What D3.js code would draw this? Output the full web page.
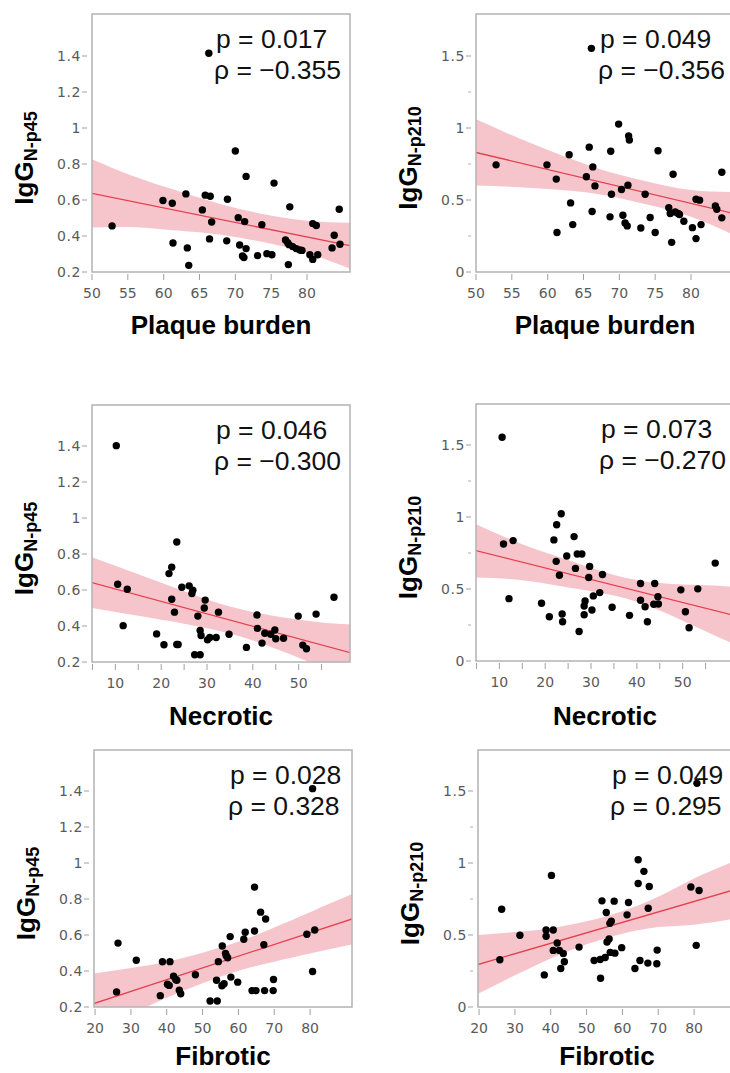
<!DOCTYPE html>
<html>
<head>
<meta charset="utf-8">
<script src="https://cdn.jsdelivr.net/npm/d3@7"></script>
<style>
  body { margin: 0; background: #fff; }
  text { font-family: "Liberation Sans", Arial, sans-serif; }
  .tick-label { font-family: "DejaVu Sans", Verdana, sans-serif; font-size: 14px; fill: #5a5a5a; }
</style>
</head>
<body>
<script>
// ---- points: [x, IgG] ----
const plaque45 = [[52.8,0.456],[59.9,0.597],[61.2,0.582],[61.3,0.361],[63.1,0.634],[63.3,0.334],[63.5,0.237],[65.4,0.545],[65.8,0.627],[66.5,0.621],[66.3,1.415],[66.4,0.384],[66.7,0.478],[68.9,0.604],[68.8,0.373],[70.0,0.872],[70.4,0.502],[70.6,0.35],[71.0,0.289],[71.2,0.28],[71.3,0.48],[71.5,0.731],[71.5,0.33],[73.1,0.291],[73.7,0.463],[74.4,0.302],[75.1,0.296],[75.4,0.694],[77.0,0.378],[77.3,0.363],[77.5,0.352],[77.6,0.562],[77.4,0.241],[78.0,0.341],[78.5,0.33],[79.0,0.322],[79.3,0.32],[80.4,0.296],[80.8,0.27],[80.8,0.469],[81.3,0.458],[81.5,0.296],[83.5,0.334],[83.8,0.404],[84.5,0.549],[84.6,0.354]];
const plaque210 = [[52.8,0.744],[59.9,0.744],[61.2,0.645],[61.3,0.274],[63.0,0.814],[63.2,0.48],[63.5,0.329],[65.4,0.661],[65.8,0.867],[66.1,1.553],[66.3,0.73],[66.2,0.42],[66.6,0.598],[68.8,0.839],[68.9,0.54],[68.7,0.383],[69.9,1.027],[70.3,0.573],[70.5,0.394],[70.8,0.341],[71.1,0.32],[71.2,0.603],[71.3,0.944],[71.4,0.916],[73.0,0.306],[73.6,0.54],[74.3,0.378],[75.0,0.274],[75.4,0.842],[76.9,0.447],[77.1,0.406],[77.5,0.679],[77.3,0.206],[77.8,0.417],[78.2,0.406],[78.4,0.399],[79.0,0.352],[80.2,0.308],[80.7,0.232],[80.7,0.505],[81.2,0.499],[81.4,0.329],[83.4,0.459],[83.6,0.436],[84.3,0.693],[84.3,0.376]];
const necrotic45 = [[10.2,1.402],[10.5,0.632],[12.6,0.604],[11.7,0.402],[19.0,0.356],[20.6,0.296],[21.7,0.691],[22.3,0.727],[22.3,0.549],[22.9,0.477],[23.4,0.867],[23.4,0.297],[23.7,0.297],[24.5,0.615],[26.1,0.623],[26.7,0.58],[26.9,0.599],[27.3,0.24],[28.5,0.24],[28.0,0.455],[28.5,0.375],[28.7,0.347],[29.6,0.544],[29.4,0.5],[30.1,0.323],[30.6,0.336],[32.0,0.336],[32.5,0.477],[34.8,0.354],[38.6,0.281],[40.9,0.461],[41.0,0.387],[42.0,0.305],[42.6,0.36],[43.9,0.354],[44.8,0.378],[45.0,0.329],[46.7,0.332],[49.9,0.455],[50.9,0.294],[51.7,0.274],[53.8,0.466],[57.7,0.56]];
const necrotic210 = [[10.6,1.554],[10.9,0.813],[13.0,0.836],[12.1,0.433],[19.2,0.401],[20.9,0.307],[21.9,0.841],[22.5,0.946],[22.4,0.692],[23.1,0.596],[23.5,1.023],[23.7,0.326],[23.8,0.273],[24.7,0.729],[26.3,0.864],[26.6,0.643],[27.0,0.743],[28.0,0.743],[27.4,0.205],[28.5,0.321],[28.7,0.417],[28.5,0.382],[29.7,0.657],[29.5,0.58],[30.2,0.354],[30.5,0.452],[31.9,0.475],[32.5,0.601],[34.6,0.373],[38.4,0.317],[40.8,0.538],[40.8,0.422],[41.8,0.377],[42.3,0.273],[43.7,0.394],[43.9,0.538],[44.6,0.447],[44.7,0.396],[49.6,0.494],[50.6,0.342],[51.4,0.231],[53.3,0.501],[57.1,0.68]];
const fibrotic45 = [[26.0,0.284],[26.4,0.555],[31.5,0.46],[38.2,0.263],[38.8,0.451],[40.2,0.327],[40.9,0.452],[40.7,0.32],[41.9,0.371],[42.5,0.353],[42.8,0.349],[43.5,0.293],[43.9,0.274],[48.0,0.379],[52.1,0.233],[54.1,0.233],[53.9,0.349],[54.4,0.452],[55.5,0.539],[55.4,0.318],[56.0,0.329],[56.4,0.498],[56.6,0.485],[57.0,0.474],[57.7,0.591],[57.9,0.366],[59.8,0.338],[61.5,0.576],[61.9,0.615],[63.8,0.291],[64.5,0.622],[64.5,0.866],[64.9,0.291],[66.2,0.727],[67.1,0.546],[67.3,0.291],[67.6,0.689],[69.7,0.291],[69.8,0.353],[79.1,0.604],[81.3,0.628],[80.7,0.397],[80.7,1.413]];
const fibrotic210 = [[25.8,0.328],[26.3,0.679],[31.4,0.498],[38.2,0.223],[38.7,0.535],[38.7,0.491],[40.2,0.914],[40.7,0.535],[40.7,0.393],[41.8,0.444],[42.4,0.393],[42.8,0.267],[43.5,0.372],[43.8,0.314],[47.9,0.416],[52.1,0.323],[53.8,0.33],[53.9,0.2],[54.3,0.737],[55.2,0.344],[55.5,0.656],[55.7,0.451],[56.3,0.472],[56.5,0.581],[56.9,0.595],[56.6,0.379],[57.7,0.735],[57.9,0.374],[59.8,0.412],[61.7,0.726],[61.3,0.64],[63.5,0.267],[64.4,1.023],[64.4,0.858],[64.9,0.323],[66.0,0.942],[67.1,0.305],[67.2,0.686],[67.5,0.837],[69.7,0.395],[69.6,0.3],[79.1,0.833],[81.4,0.809],[80.6,0.428],[80.8,1.553]];

// ---- fit lines (value at left and right end) and confidence bands ----
const fitXPlaque = [50, 86];
const fitPlaque45 = [0.637, 0.346];
const fitPlaque210 = [0.830, 0.406];
const bandXPlaque = [50, 56, 62, 68, 74, 80, 86];
const bandHiPlaque45 = [0.827, 0.729, 0.65, 0.577, 0.521, 0.485, 0.473];
const bandLoPlaque45 = [0.447, 0.449, 0.43, 0.407, 0.365, 0.305, 0.219];
const bandHiPlaque210 = [1.06, 0.929, 0.809, 0.703, 0.627, 0.57, 0.556];
const bandLoPlaque210 = [0.60, 0.589, 0.569, 0.533, 0.467, 0.384, 0.256];

const fitXNecrotic = [4.5, 61.5];
const fitNecrotic45 = [0.644, 0.250];
const fitNecrotic210 = [0.770, 0.314];
const bandXNecrotic = [4.5, 15, 25, 35, 45, 55, 61.5];
const bandHiNecrotic45 = [0.785, 0.687, 0.593, 0.508, 0.454, 0.42, 0.41];
const bandLoNecrotic45 = [0.502, 0.457, 0.413, 0.358, 0.274, 0.17, 0.09];
const bandHiNecrotic210 = [0.955, 0.811, 0.701, 0.598, 0.541, 0.526, 0.514];
const bandLoNecrotic210 = [0.58, 0.561, 0.511, 0.454, 0.351, 0.206, 0.114];

const fitXFibrotic = [19.5, 92];
const fitFibrotic45 = [0.218, 0.691];
const fitFibrotic210 = [0.294, 0.82];
const bandXFibrotic = [19.5, 30, 40, 50, 60, 70, 80, 92];
const bandHiFibrotic45 = [0.385, 0.417, 0.452, 0.502, 0.562, 0.642, 0.727, 0.83];
const bandLoFibrotic45 = [0.05, 0.157, 0.252, 0.332, 0.402, 0.452, 0.497, 0.548];
const bandHiFibrotic210 = [0.5, 0.52, 0.547, 0.595, 0.665, 0.765, 0.892, 1.02];
const bandLoFibrotic210 = [0.09, 0.22, 0.337, 0.435, 0.509, 0.555, 0.572, 0.615];

// ---- ticks and labels ----
const yTicks45 = [0.2, 0.4, 0.6, 0.8, 1, 1.2, 1.4];
const yLabels45 = ["0.2", "0.4", "0.6", "0.8", "1", "1.2", "1.4"];
const yTicks210 = [0, 0.5, 1, 1.5];
const yLabels210 = ["0", "0.5", "1", "1.5"];
const yMinor210 = [0.25, 0.75, 1.25];
const xTicksPlaque = [50, 55, 60, 65, 70, 75, 80];
const xTicksNecrotic = [10, 20, 30, 40, 50];
const xMinorNecrotic = [5, 15, 25, 35, 45, 55];
const xTicksFibrotic = [20, 30, 40, 50, 60, 70, 80];

const stats = [
  ["p = 0.017", "ρ = −0.355"], ["p = 0.049", "ρ = −0.356"],
  ["p = 0.046", "ρ = −0.300"], ["p = 0.073", "ρ = −0.270"],
  ["p = 0.028", "ρ = 0.328"], ["p = 0.049", "ρ = 0.295"]
];

const zip = (xs, a, b) => xs.map((x, i) => [x, a[i], b[i]]);

// layout of the six panels
const panels = [
  { left: 92, top: 14, h: 258, xDom: [50, 86], ab: "45", pts: plaque45, fitX: fitXPlaque, fit: fitPlaque45,
    band: zip(bandXPlaque, bandHiPlaque45, bandLoPlaque45), xt: xTicksPlaque, xm: [], title: "Plaque burden", tdy: 62, st: stats[0], sdx: 124 },
  { left: 476, top: 14, h: 258, xDom: [50, 86], ab: "210", pts: plaque210, fitX: fitXPlaque, fit: fitPlaque210,
    band: zip(bandXPlaque, bandHiPlaque210, bandLoPlaque210), xt: xTicksPlaque, xm: [], title: "Plaque burden", tdy: 62, st: stats[1], sdx: 124 },
  { left: 92, top: 405, h: 257, xDom: [4.9, 61.2], ab: "45", pts: necrotic45, fitX: fitXNecrotic, fit: fitNecrotic45,
    band: zip(bandXNecrotic, bandHiNecrotic45, bandLoNecrotic45), xt: xTicksNecrotic, xm: xMinorNecrotic, title: "Necrotic", tdy: 63, st: stats[2], sdx: 124 },
  { left: 476, top: 404, h: 257, xDom: [4.9, 61.2], ab: "210", pts: necrotic210, fitX: fitXNecrotic, fit: fitNecrotic210,
    band: zip(bandXNecrotic, bandHiNecrotic210, bandLoNecrotic210), xt: xTicksNecrotic, xm: xMinorNecrotic, title: "Necrotic", tdy: 64, st: stats[3], sdx: 125 },
  { left: 94, top: 750, h: 257, xDom: [19.7, 91.7], ab: "45", pts: fibrotic45, fitX: fitXFibrotic, fit: fitFibrotic45,
    band: zip(bandXFibrotic, bandHiFibrotic45, bandLoFibrotic45), xt: xTicksFibrotic, xm: [], title: "Fibrotic", tdy: 58, st: stats[4], sdx: 136 },
  { left: 478, top: 750, h: 257, xDom: [19.7, 91.7], ab: "210", pts: fibrotic210, fitX: fitXFibrotic, fit: fitFibrotic210,
    band: zip(bandXFibrotic, bandHiFibrotic210, bandLoFibrotic210), xt: xTicksFibrotic, xm: [], title: "Fibrotic", tdy: 58, st: stats[5], sdx: 134 }
];

const width = 258;

const svg = d3.select("body").append("svg")
  .attr("width", 730)
  .attr("height", 1073);

panels.forEach((p, i) => {
  const bottom = p.top + p.h;
  const x = d3.scaleLinear().domain(p.xDom).range([p.left, p.left + width]);
  const y = p.ab === "45"
    ? d3.scaleLinear().domain([0.2, 0.2 + p.h / 180]).range([bottom, p.top])
    : d3.scaleLinear().domain([0, p.h / 144]).range([bottom, p.top]);

  svg.append("clipPath").attr("id", "clip" + i)
    .append("rect").attr("x", p.left).attr("y", p.top).attr("width", width).attr("height", p.h);

  const g = svg.append("g").attr("clip-path", `url(#clip${i})`);

  // confidence band
  const area = d3.area()
    .x(d => x(d[0]))
    .y0(d => y(d[2]))
    .y1(d => y(d[1]))
    .curve(d3.curveNatural);
  g.append("path").datum(p.band)
    .attr("d", area)
    .attr("fill", "#f6c5cc");

  // fit line
  g.append("line")
    .attr("x1", x(p.fitX[0])).attr("y1", y(p.fit[0]))
    .attr("x2", x(p.fitX[1])).attr("y2", y(p.fit[1]))
    .attr("stroke", "#e5404f")
    .attr("stroke-width", 1.3);

  // stats text
  const st = svg.append("text")
    .attr("x", p.left + p.sdx)
    .attr("font-size", 26.5)
    .attr("fill", "#111");
  st.append("tspan").attr("x", p.left + p.sdx).attr("y", p.top + 34).text(p.st[0]);
  st.append("tspan").attr("x", p.left + p.sdx - 2).attr("y", p.top + 65).text(p.st[1]);

  // points
  g.selectAll("circle").data(p.pts).join("circle")
    .attr("cx", d => x(d[0]))
    .attr("cy", d => y(d[1]))
    .attr("r", 3.7)
    .attr("fill", "#000");

  // frame
  svg.append("rect")
    .attr("x", p.left).attr("y", p.top)
    .attr("width", width).attr("height", p.h)
    .attr("fill", "none")
    .attr("stroke", "#b3b3b3")
    .attr("stroke-width", 1.5);

  // y axis ticks
  const yt = p.ab === "45" ? yTicks45 : yTicks210;
  const yl = p.ab === "45" ? yLabels45 : yLabels210;
  yt.forEach((v, k) => {
    svg.append("line")
      .attr("x1", p.left - 10).attr("x2", p.left - 5)
      .attr("y1", y(v)).attr("y2", y(v))
      .attr("stroke", "#a0a0a0");
    svg.append("text").attr("class", "tick-label")
      .attr("x", p.left - 11).attr("y", y(v))
      .attr("dy", "0.36em")
      .attr("text-anchor", "end")
      .attr("letter-spacing", 0.6)
      .text(yl[k]);
  });
  if (p.ab === "210") {
    yMinor210.forEach(v => {
      svg.append("line")
        .attr("x1", p.left - 8).attr("x2", p.left - 5)
        .attr("y1", y(v)).attr("y2", y(v))
        .attr("stroke", "#b0b0b0");
    });
  }

  // x axis ticks
  p.xt.concat(p.xm).forEach(v => {
    svg.append("line")
      .attr("x1", x(v)).attr("x2", x(v))
      .attr("y1", bottom + 2).attr("y2", bottom + 8)
      .attr("stroke", "#a0a0a0");
  });
  p.xt.forEach(v => {
    svg.append("text").attr("class", "tick-label")
      .attr("x", x(v)).attr("y", bottom + 26)
      .attr("text-anchor", "middle")
      .text(v);
  });

  // x title
  svg.append("text")
    .attr("x", p.left + width / 2).attr("y", bottom + p.tdy)
    .attr("text-anchor", "middle")
    .attr("font-size", 26)
    .attr("font-weight", "bold")
    .attr("fill", "#000")
    .text(p.title);

  // y title
  const cy = p.top + p.h / 2 + 15;
  const yl2 = svg.append("text")
    .attr("transform", `translate(${p.left - 59},${cy}) rotate(-90)`)
    .attr("text-anchor", "middle")
    .attr("font-weight", "bold")
    .attr("fill", "#000");
  yl2.append("tspan").attr("font-size", 26).text("IgG");
  yl2.append("tspan").attr("font-size", 18).attr("dy", 4).text("N-p" + p.ab);
});
</script>
</body>
</html>
